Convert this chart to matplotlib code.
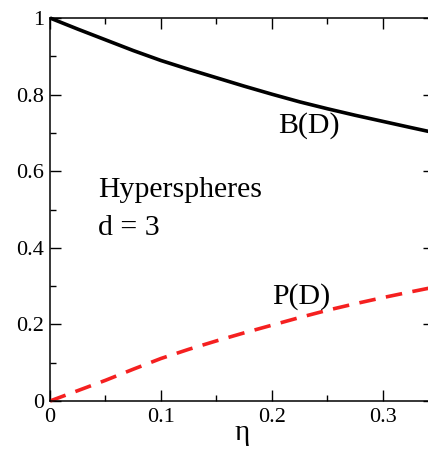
import matplotlib

matplotlib.use("Agg")

import matplotlib.pyplot as plt  # noqa: E402
from matplotlib.ticker import MultipleLocator  # noqa: E402

_INK = "#000000"
_RED = "#f52020"
_SERIF = ["Liberation Serif", "DejaVu Serif"]

# packing fraction and the two curves
eta = [0.0, 0.025, 0.05, 0.075, 0.1, 0.125, 0.15, 0.175, 0.2,
       0.225, 0.25, 0.275, 0.3, 0.325, 0.3457]
b_d = [1.0, 0.971, 0.943, 0.915, 0.889, 0.866, 0.844, 0.822, 0.801,
       0.781, 0.763, 0.746, 0.730, 0.714, 0.701]
p_d = [0.0, 0.027, 0.054, 0.083, 0.111, 0.135, 0.157, 0.178, 0.198,
       0.218, 0.237, 0.254, 0.270, 0.285, 0.297]

x_ticks = [0.0, 0.1, 0.2, 0.3]
x_tick_labels = ["0", "0.1", "0.2", "0.3"]
y_ticks = [0.0, 0.2, 0.4, 0.6, 0.8, 1.0]
y_tick_labels = ["0", "0.2", "0.4", "0.6", "0.8", "1"]

plt.rcParams["font.family"] = _SERIF

fig = plt.figure(figsize=(4.28, 4.49), dpi=100)
fig.patch.set_facecolor("white")
# the right spine sits just past the picture edge, as in the source
ax = fig.add_axes([50 / 428, 1 - 401 / 449, 383.7 / 428, 383 / 449])

ax.plot(eta, b_d, color=_INK, lw=2.6, solid_capstyle="butt", clip_on=False)
ax.plot(eta, p_d, color=_RED, lw=2.6, dashes=(4.6, 2.9), clip_on=False)

ax.set_xlim(0, 0.3457)
ax.set_ylim(0, 1)
ax.set_xticks(x_ticks)
ax.set_xticklabels(x_tick_labels)
ax.set_yticks(y_ticks)
ax.set_yticklabels(y_tick_labels)
ax.xaxis.set_minor_locator(MultipleLocator(0.05))
ax.yaxis.set_minor_locator(MultipleLocator(0.1))

ax.tick_params(which="both", direction="in", top=True, right=True,
               colors=_INK, width=1.0)
ax.tick_params(which="major", length=8, labelsize=16)
ax.tick_params(which="minor", length=4.5)
ax.tick_params(axis="y", which="major", pad=4)
ax.tick_params(axis="x", which="major", pad=5)
for side in ax.spines.values():
    side.set_linewidth(1.1)
    side.set_color(_INK)

ax.set_xlabel("η", fontsize=21, labelpad=-5)

ax.text(0.2054, 0.700, "B(D)", fontsize=21.5, ha="left", va="baseline")
ax.text(0.1997, 0.255, "P(D)", fontsize=21.5, ha="left", va="baseline")
ax.text(0.0435, 0.533, "Hyperspheres", fontsize=21.5, ha="left", va="baseline")
ax.text(0.0435, 0.433, "d = 3", fontsize=21.5, ha="left", va="baseline")

fig.savefig("out.png", dpi=100)
